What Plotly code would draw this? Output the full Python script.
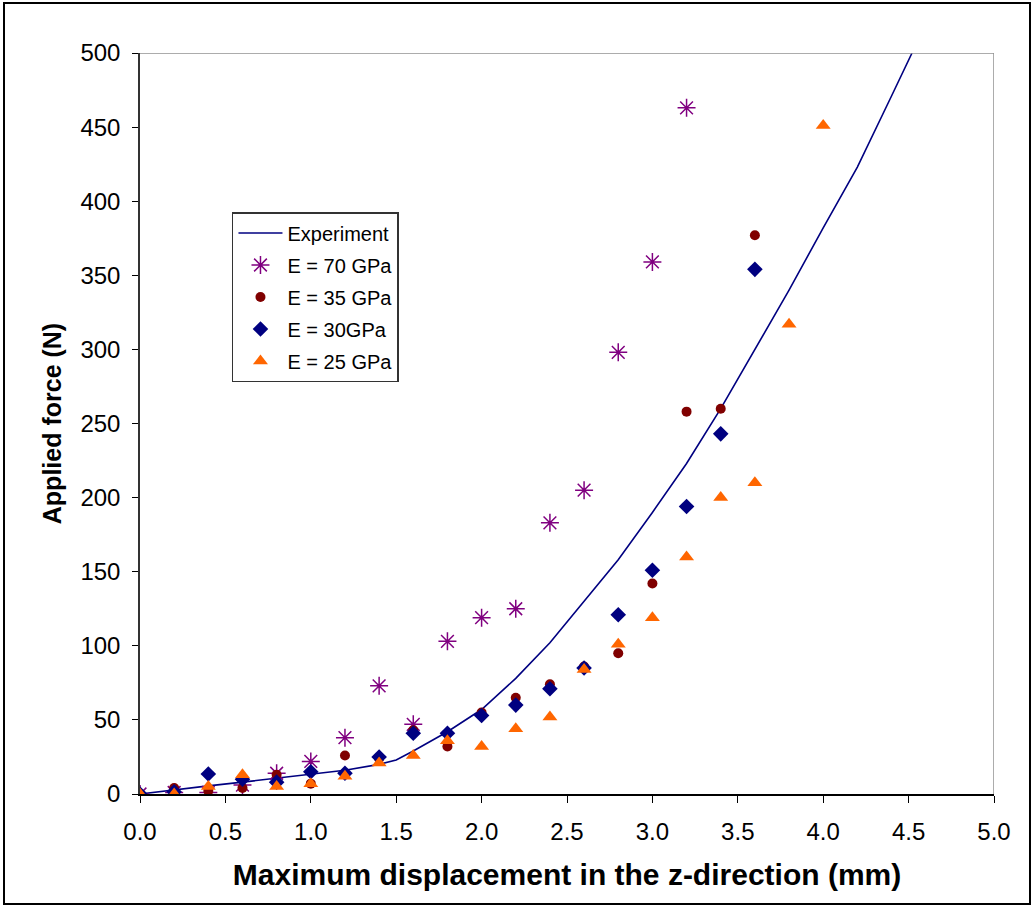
import plotly.graph_objects as go

# Data
disp = [0.0, 0.2, 0.4, 0.6, 0.8, 1.0, 1.2, 1.4, 1.6, 1.8, 2.0, 2.2, 2.4, 2.6, 2.8, 3.0, 3.2, 3.4, 3.6, 3.8, 4.0]

exp_x = [0, 0.2, 0.4, 0.6, 0.8, 1.0, 1.2, 1.4, 1.5, 1.6, 1.8, 2.0, 2.2, 2.4, 2.6, 2.8, 3.0, 3.2, 3.4, 3.6, 3.8, 4.0, 4.2, 4.4, 4.52]
exp_y = [0, 3, 5.5, 8, 10.5, 13, 16, 20, 23, 29, 42, 57, 78, 102, 130, 158, 190, 223, 260, 300, 340, 382, 423, 471, 500]

e70_x = disp[:17]
e70_y = [0, 1, 1, 6, 14, 22, 38, 73, 47, 103, 119, 125, 183, 205, 298, 359, 463]

e35_x = disp[:19]
e35_y = [0, 4, 2, 4, 13, 7, 26, 24, 43, 32, 55, 65, 74, 86, 95, 142, 258, 260, 377]

e30_x = disp[:19]
e30_y = [0, 1.5, 13.5, 10, 8, 15, 14, 25, 41, 41, 53, 60, 71, 85, 121, 151, 194, 243, 354]

e25_x = disp[:21]
e25_y = [0, 0, 5, 13, 5, 7, 12, 21, 26, 36, 32, 44, 52, 84, 101, 119, 160, 200, 210, 317, 451]

FONT = "Liberation Sans, Arial, sans-serif"

fig = go.Figure()
fig.add_trace(go.Scatter(x=exp_x, y=exp_y, mode="lines", name="Experiment", legendgroup="g0",
                         line=dict(color="#000080", width=1.6)))
fig.add_trace(go.Scatter(x=e70_x, y=e70_y, mode="markers", name="E = 70 GPa", legendgroup="g1",
                         marker=dict(symbol="asterisk-open", size=15, color="#800080",
                                     line=dict(color="#800080", width=1.5))))
fig.add_trace(go.Scatter(x=e35_x, y=e35_y, mode="markers", name="E = 35 GPa", legendgroup="g2",
                         marker=dict(symbol="circle", size=10, color="#800000")))
fig.add_trace(go.Scatter(x=e30_x, y=e30_y, mode="markers", name="E = 30GPa", legendgroup="g3",
                         marker=dict(symbol="diamond", size=12, color="#000080")))
fig.add_trace(go.Scatter(x=e25_x, y=e25_y, mode="markers", name="E = 25 GPa", legendgroup="g4",
                         marker=dict(symbol="triangle-up", size=13, color="#FF6600")))

fig.update_layout(
    width=1034, height=907,
    margin=dict(l=140, r=40, t=53, b=113),
    paper_bgcolor="white", plot_bgcolor="white",
    font=dict(family=FONT, size=24, color="black"),
    showlegend=True,
    legend=dict(x=0.1077, y=0.7854, xanchor="left", yanchor="top",
                bgcolor="white", bordercolor="#333333", borderwidth=1.5,
                font=dict(family=FONT, size=20, color="black"),
                traceorder="grouped", tracegroupgap=3, itemwidth=44),
    xaxis=dict(range=[0, 5], dtick=0.5, tickformat=".1f", showgrid=False, zeroline=False,
               showline=True, linecolor="black", linewidth=1.5,
               ticks="outside", ticklen=7, tickcolor="black", ticklabelstandoff=8,
               title=dict(text="<b>Maximum displacement in the z-direction (mm)</b>",
                          font=dict(family=FONT, size=30), standoff=20)),
    yaxis=dict(range=[0, 500], dtick=50, showgrid=False, zeroline=False,
               showline=True, linecolor="#333333", linewidth=1.5,
               ticks="outside", ticklen=6, tickcolor="black", ticklabelstandoff=7,
               title=dict(text="<b>Applied force (N)</b>",
                          font=dict(family=FONT, size=25), standoff=12)),
    shapes=[
        dict(type="line", xref="x", yref="y", x0=0, x1=5, y0=500, y1=500,
             line=dict(color="#909090", width=1.5)),
        dict(type="line", xref="x", yref="y", x0=5, x1=5, y0=0, y1=500,
             line=dict(color="#909090", width=1.5)),
        dict(type="rect", xref="paper", yref="paper",
             x0=(4 - 140) / 854, x1=(1030 - 140) / 854,
             y0=(794 - 904) / 741, y1=(794 - 3) / 741,
             line=dict(color="black", width=2), layer="below"),
    ],
)

fig.write_html("out.html", config={"displayModeBar": False},
               post_script="document.body.style.margin='0px';document.body.style.overflow='hidden';")
